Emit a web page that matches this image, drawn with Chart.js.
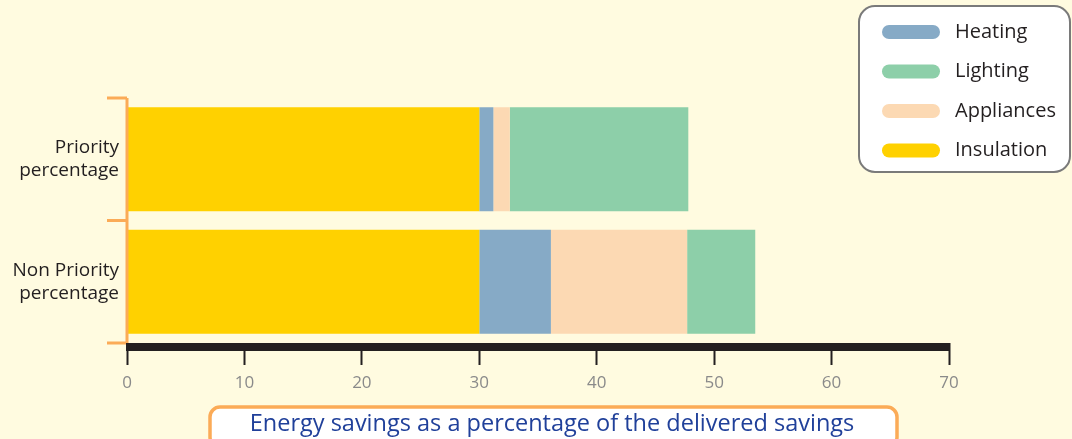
<!DOCTYPE html>
<html>
<head>
<meta charset="utf-8">
<script src="https://cdn.jsdelivr.net/npm/chart.js@4.4.1/dist/chart.umd.min.js"></script>
<style>
  html, body { margin: 0; padding: 0; background: #fffbe0; }
  #wrap { width: 1072px; height: 439px; position: relative; }
</style>
</head>
<body>
<div id="wrap"><canvas id="grafico"></canvas></div>
<script>
// Datos del gráfico
const categorias = [["Priority", "percentage"], ["Non Priority", "percentage"]];
const insulation = [30, 30];
const heating = [1.2, 6.1];
const appliances = [1.4, 11.6];
const lighting = [15.2, 5.8];
const ticksX = [0, 10, 20, 30, 40, 50, 60, 70];
const tituloEje = "Energy savings as a percentage of the delivered savings";
const ordenLeyenda = ["Heating", "Lighting", "Appliances", "Insulation"];

const fuente = "'Open Sans', sans-serif";

// Dibuja corchete naranja, eje negro, título y leyenda
const decoracion = {
    id: "decoracion",
    afterDraw(chart) {
        const ctx = chart.ctx;
        const area = chart.chartArea;
        const x = chart.scales.x;

        // corchete naranja a la izquierda
        ctx.save();
        ctx.strokeStyle = "#fbab57";
        ctx.lineWidth = 3;
        ctx.beginPath();
        ctx.moveTo(area.left, area.top);
        ctx.lineTo(area.left, area.bottom);
        const paso = (area.bottom - area.top) / categorias.length;
        for (let i = 0; i <= categorias.length; i++) {
            const py = area.top + paso * i;
            ctx.moveTo(area.left - 20, py);
            ctx.lineTo(area.left, py);
        }
        ctx.stroke();

        // eje negro grueso
        ctx.fillStyle = "#231f20";
        ctx.fillRect(x.getPixelForValue(0) - 1, area.bottom, x.getPixelForValue(70) - x.getPixelForValue(0) + 2, 8);

        // caja del título
        ctx.beginPath();
        ctx.roundRect(210, 407, 687, 40, 10);
        ctx.fillStyle = "#ffffff";
        ctx.fill();
        ctx.strokeStyle = "#fbab57";
        ctx.lineWidth = 3.5;
        ctx.stroke();
        ctx.font = "23.5px " + fuente;
        ctx.fillStyle = "#20409a";
        ctx.textAlign = "center";
        ctx.textBaseline = "middle";
        ctx.fillText(tituloEje, 552, 424, 612);

        // leyenda
        ctx.beginPath();
        ctx.roundRect(859, 6, 211, 166, 16);
        ctx.fillStyle = "#ffffff";
        ctx.fill();
        ctx.strokeStyle = "#7a7a7a";
        ctx.lineWidth = 2;
        ctx.stroke();
        ctx.font = "20px " + fuente;
        ctx.textAlign = "left";
        ordenLeyenda.forEach((nombre, i) => {
            const ds = chart.data.datasets.find(d => d.label === nombre);
            const ly = 32 + i * 39.5;
            ctx.beginPath();
            ctx.roundRect(882, ly - 7, 58, 14, 7);
            ctx.fillStyle = ds.backgroundColor;
            ctx.fill();
            ctx.fillStyle = "#231f20";
            ctx.fillText(nombre, 955, ly, 104);
        });
        ctx.restore();
    }
};

const ctx = document.getElementById("grafico").getContext("2d");
new Chart(ctx, {
    type: "bar",
    data: {
        labels: categorias,
        datasets: [
            { label: "Insulation", data: insulation, backgroundColor: "#ffd100" },
            { label: "Heating", data: heating, backgroundColor: "#86aac6" },
            { label: "Appliances", data: appliances, backgroundColor: "#fcd9b3" },
            { label: "Lighting", data: lighting, backgroundColor: "#8dcfa9" }
        ]
    },
    options: {
        indexAxis: "y",
        responsive: true,
        maintainAspectRatio: false,
        animation: false,
        layout: { padding: { top: 98, right: 123, left: 0, bottom: 0 } },
        datasets: { bar: { categoryPercentage: 1, barPercentage: 0.85, borderWidth: 0 } },
        plugins: { legend: { display: false }, tooltip: { enabled: false } },
        scales: {
            x: {
                stacked: true,
                min: 0,
                max: 70,
                afterBuildTicks: (s) => { s.ticks = ticksX.map(v => ({ value: v })); },
                afterFit: (s) => { s.height = 96; },
                border: { display: false },
                grid: { drawOnChartArea: false, drawTicks: true, tickLength: 22, tickColor: "#231f20", tickWidth: 2 },
                ticks: { color: "#8a8a8a", font: { family: fuente, size: 17 }, padding: 8 }
            },
            y: {
                stacked: true,
                afterFit: (s) => { s.width = 127; },
                border: { display: false },
                grid: { display: false },
                ticks: { color: "#231f20", font: { family: fuente, size: 19, lineHeight: 1.2 }, padding: 0 }
            }
        }
    },
    plugins: [decoracion]
});
</script>
</body>
</html>
